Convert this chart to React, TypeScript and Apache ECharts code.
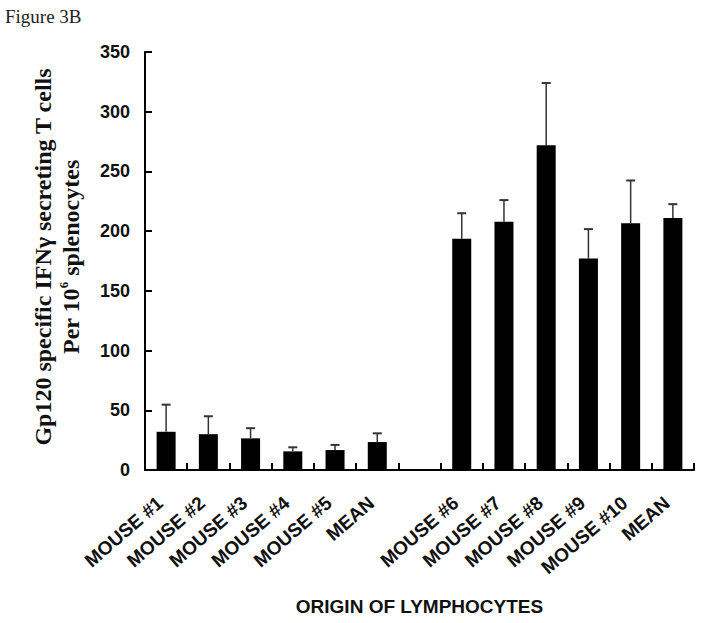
import React, { useEffect, useRef } from "react";
import * as echarts from "echarts";

const categories = [
  "MOUSE #1", "MOUSE #2", "MOUSE #3", "MOUSE #4", "MOUSE #5", "MEAN",
  "",
  "MOUSE #6", "MOUSE #7", "MOUSE #8", "MOUSE #9", "MOUSE #10", "MEAN",
];
const values: (number | null)[] = [32, 30, 26.5, 15.6, 16.7, 23.4, null, 193.6, 207.8, 272, 177, 206.7, 211];
const errors: (number | null)[] = [22.7, 15, 8.5, 3.4, 4.3, 7.3, null, 21.4, 18.2, 52, 24.7, 35.7, 11.6];
const yTicks = { min: 0, max: 350, interval: 50 };

const SANS = "'Liberation Sans', Arial, Helvetica, sans-serif";
const SERIF = "'Liberation Serif', 'Times New Roman', Times, serif";

export default function App() {
  const ref = useRef<HTMLDivElement>(null);
  useEffect(() => {
    if (!ref.current) return;
    const chart = echarts.init(ref.current, undefined, { renderer: "svg" });
    const errData = values.map((v, i) => (v == null || errors[i] == null ? [i, null, null] : [i, v, (v as number) + (errors[i] as number)]));
    chart.setOption({
      animation: false,
      backgroundColor: "#ffffff",
      grid: { left: 145, right: 10, top: 52, bottom: 153, containLabel: false },
      graphic: [
        {
          type: "text",
          left: 5,
          top: 7,
          style: { text: "Figure 3B", font: `19px ${SERIF}`, fill: "#222" },
        },
        {
          type: "text",
          x: 57,
          y: 257,
          rotation: Math.PI / 2,
          style: {
            text: "{a|Gp120 specific IFNγ secreting T cells}\n{a|Per 10}{s|6}{a| splenocytes}",
            align: "center",
            verticalAlign: "middle",
            rich: {
              a: { font: `bold 24px ${SERIF}`, fill: "#111", lineHeight: 28 },
              s: { font: `bold 13px ${SERIF}`, fill: "#111", lineHeight: 28, verticalAlign: "top", padding: [0, 0, 10, 0] },
            },
          },
        },
      ],
      xAxis: {
        type: "category",
        data: categories,
        boundaryGap: true,
        name: "ORIGIN OF LYMPHOCYTES",
        nameLocation: "middle",
        nameGap: 127,
        nameTextStyle: { fontFamily: SANS, fontWeight: "bold", fontSize: 19, color: "#111" },
        axisLine: { lineStyle: { color: "#000", width: 2 } },
        axisTick: { show: true, inside: true, length: 7, alignWithLabel: false, lineStyle: { color: "#000", width: 2 } },
        axisLabel: {
          interval: 0,
          rotate: 41,
          margin: 25,
          padding: [0, 8, 0, 0],
          fontFamily: SANS,
          fontWeight: "bold",
          fontSize: 19,
          color: "#111",
        },
        splitLine: { show: false },
      },
      yAxis: {
        type: "value",
        min: yTicks.min,
        max: yTicks.max,
        interval: yTicks.interval,
        axisLine: { show: true, lineStyle: { color: "#000", width: 2 } },
        axisTick: { show: true, inside: true, length: 7, lineStyle: { color: "#000", width: 2 } },
        axisLabel: { margin: 15, fontFamily: SANS, fontWeight: "bold", fontSize: 18, color: "#111" },
        splitLine: { show: false },
      },
      series: [
        {
          type: "bar",
          data: values.map((v) => (v == null ? "-" : v)),
          barWidth: 19,
          itemStyle: { color: "#000" },
          z: 2,
        },
        {
          type: "custom",
          z: 3,
          data: errData,
          encode: { x: 0, y: [1, 2] },
          renderItem: (params: any, api: any) => {
            const lo = api.value(1);
            const hi = api.value(2);
            if (lo == null || hi == null || isNaN(lo) || isNaN(hi)) return null;
            const idx = api.value(0);
            const p0 = api.coord([idx, lo]);
            const p1 = api.coord([idx, hi]);
            const cap = 4.5;
            const style = { stroke: "#333", lineWidth: 1.5 };
            return {
              type: "group",
              children: [
                { type: "line", shape: { x1: p0[0], y1: p0[1], x2: p1[0], y2: p1[1] }, style },
                { type: "line", shape: { x1: p1[0] - cap, y1: p1[1], x2: p1[0] + cap, y2: p1[1] }, style: { stroke: "#333", lineWidth: 2 } },
              ],
            };
          },
        },
      ],
    });
    return () => chart.dispose();
  }, []);
  return <div ref={ref} style={{ width: 704, height: 623, position: "absolute", left: 0, top: 0 }} />;
}
